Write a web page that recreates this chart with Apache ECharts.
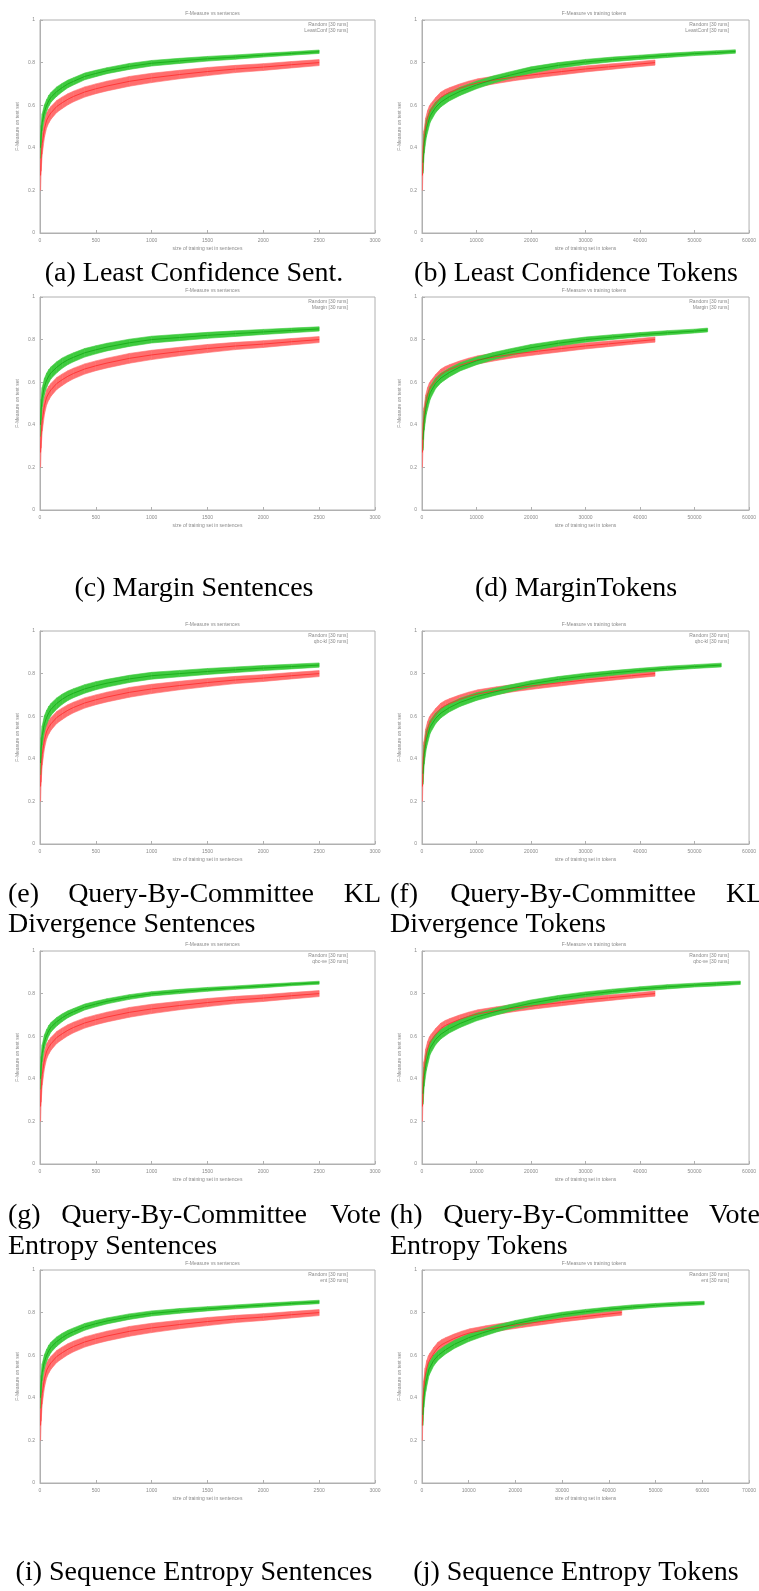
<!DOCTYPE html>
<html>
<head>
<meta charset="utf-8">
<script src="https://cdn.jsdelivr.net/npm/echarts@6/dist/echarts.min.js"></script>
<style>
  html, body { margin: 0; padding: 0; background: #fff; }
  #chart { width: 759px; height: 1591px; }
</style>
</head>
<body>
<div id="chart"></div>
<script>
// ---- data: training-set size vs F-measure (mean and error half-width) ----
const sentX = [5, 10, 20, 40, 60, 80, 100, 150, 200, 250, 300, 400, 500, 600, 800, 1000, 1250, 1500, 1750, 2000, 2250, 2500];
const randomSentMean = [0.27, 0.35, 0.42, 0.49, 0.53, 0.55, 0.565, 0.594, 0.612, 0.628, 0.641, 0.662, 0.677, 0.69, 0.712, 0.728, 0.744, 0.758, 0.77, 0.779, 0.79, 0.80];
const randomSentErr = [0.07, 0.06, 0.05, 0.04, 0.035, 0.032, 0.03, 0.028, 0.027, 0.026, 0.025, 0.024, 0.023, 0.023, 0.023, 0.022, 0.02, 0.019, 0.017, 0.016, 0.015, 0.014];

const leastConfSentMean = [0.40, 0.46, 0.52, 0.57, 0.60, 0.622, 0.638, 0.664, 0.683, 0.70, 0.712, 0.735, 0.749, 0.762, 0.782, 0.797, 0.808, 0.818, 0.826, 0.835, 0.843, 0.851];
const leastConfSentErr = [0.05, 0.045, 0.04, 0.032, 0.027, 0.025, 0.023, 0.022, 0.02, 0.018, 0.017, 0.016, 0.015, 0.014, 0.014, 0.013, 0.012, 0.011, 0.01, 0.009, 0.008, 0.008];
const marginSentMean = [0.40, 0.47, 0.53, 0.58, 0.61, 0.63, 0.645, 0.67, 0.69, 0.705, 0.717, 0.738, 0.752, 0.765, 0.785, 0.80, 0.81, 0.82, 0.828, 0.836, 0.843, 0.85];
const marginSentErr = [0.055, 0.05, 0.045, 0.038, 0.033, 0.03, 0.028, 0.026, 0.024, 0.022, 0.021, 0.02, 0.019, 0.018, 0.017, 0.016, 0.015, 0.014, 0.013, 0.012, 0.011, 0.01];
const qbcKlSentMean = [0.38, 0.45, 0.51, 0.565, 0.595, 0.617, 0.633, 0.66, 0.68, 0.696, 0.708, 0.728, 0.743, 0.755, 0.775, 0.79, 0.80, 0.81, 0.818, 0.826, 0.833, 0.84];
const qbcKlSentErr = [0.055, 0.05, 0.045, 0.038, 0.033, 0.03, 0.028, 0.026, 0.024, 0.022, 0.021, 0.02, 0.019, 0.018, 0.017, 0.016, 0.015, 0.014, 0.013, 0.012, 0.011, 0.01];
const qbcVeSentMean = [0.40, 0.46, 0.52, 0.575, 0.605, 0.627, 0.643, 0.668, 0.687, 0.703, 0.715, 0.737, 0.751, 0.764, 0.784, 0.799, 0.81, 0.82, 0.828, 0.836, 0.844, 0.851];
const qbcVeSentErr = [0.05, 0.045, 0.04, 0.032, 0.027, 0.024, 0.022, 0.02, 0.018, 0.016, 0.015, 0.014, 0.013, 0.012, 0.011, 0.01, 0.01, 0.009, 0.008, 0.008, 0.007, 0.007];
const seqEntSentMean = [0.40, 0.46, 0.52, 0.57, 0.60, 0.622, 0.638, 0.664, 0.683, 0.699, 0.711, 0.733, 0.748, 0.761, 0.781, 0.796, 0.808, 0.818, 0.827, 0.835, 0.843, 0.85];
const seqEntSentErr = [0.05, 0.045, 0.04, 0.033, 0.028, 0.026, 0.024, 0.022, 0.02, 0.018, 0.017, 0.016, 0.015, 0.014, 0.013, 0.012, 0.011, 0.01, 0.009, 0.009, 0.008, 0.008];

const randomTokX = [85, 170, 340, 680, 1030, 1370, 1710, 2570, 3420, 4280, 5130, 6840, 8550, 10260, 13680, 17100, 21380, 25650, 29930, 34200, 38480, 42750];
const randomTokMean = [0.27, 0.35, 0.43, 0.50, 0.54, 0.565, 0.58, 0.61, 0.635, 0.65, 0.66, 0.678, 0.693, 0.705, 0.72, 0.733, 0.746, 0.758, 0.77, 0.78, 0.79, 0.80];
const randomTokErr = [0.07, 0.06, 0.05, 0.04, 0.035, 0.032, 0.03, 0.028, 0.026, 0.024, 0.023, 0.021, 0.02, 0.019, 0.018, 0.017, 0.016, 0.015, 0.014, 0.013, 0.012, 0.012];

const leastConfTokX = [200, 400, 800, 1500, 2500, 3500, 5000, 7000, 10000, 13000, 16000, 20000, 25000, 30000, 35000, 40000, 45000, 50000, 54000, 57500];
const leastConfTokMean = [0.33, 0.42, 0.49, 0.55, 0.59, 0.615, 0.64, 0.665, 0.695, 0.72, 0.74, 0.765, 0.787, 0.803, 0.815, 0.825, 0.834, 0.842, 0.847, 0.852];
const leastConfTokErr = [0.05, 0.045, 0.04, 0.03, 0.025, 0.022, 0.02, 0.019, 0.018, 0.017, 0.016, 0.015, 0.013, 0.012, 0.011, 0.01, 0.01, 0.009, 0.009, 0.008];
const marginTokX = [200, 400, 800, 1500, 2500, 3500, 5000, 7000, 10000, 13000, 16000, 20000, 25000, 30000, 35000, 40000, 45000, 50000, 52400];
const marginTokMean = [0.33, 0.42, 0.49, 0.55, 0.595, 0.62, 0.645, 0.672, 0.70, 0.722, 0.74, 0.762, 0.783, 0.80, 0.812, 0.823, 0.832, 0.84, 0.845];
const marginTokErr = [0.05, 0.045, 0.04, 0.03, 0.025, 0.022, 0.02, 0.019, 0.018, 0.017, 0.016, 0.015, 0.013, 0.012, 0.011, 0.01, 0.01, 0.009, 0.009];
const qbcKlTokX = [200, 400, 800, 1500, 2500, 3500, 5000, 7000, 10000, 13000, 16000, 20000, 25000, 30000, 35000, 40000, 45000, 50000, 54900];
const qbcKlTokMean = [0.33, 0.42, 0.49, 0.55, 0.59, 0.615, 0.64, 0.665, 0.692, 0.712, 0.73, 0.752, 0.773, 0.79, 0.803, 0.815, 0.825, 0.833, 0.84];
const qbcKlTokErr = [0.05, 0.045, 0.04, 0.03, 0.025, 0.022, 0.02, 0.019, 0.018, 0.017, 0.016, 0.015, 0.013, 0.012, 0.011, 0.01, 0.01, 0.009, 0.009];
const qbcVeTokX = [200, 400, 800, 1500, 2500, 3500, 5000, 7000, 10000, 13000, 16000, 20000, 25000, 30000, 35000, 40000, 45000, 50000, 54000, 58400];
const qbcVeTokMean = [0.33, 0.41, 0.48, 0.545, 0.585, 0.61, 0.635, 0.66, 0.69, 0.712, 0.732, 0.755, 0.778, 0.796, 0.81, 0.822, 0.832, 0.84, 0.845, 0.851];
const qbcVeTokErr = [0.05, 0.045, 0.04, 0.03, 0.025, 0.022, 0.02, 0.019, 0.018, 0.017, 0.016, 0.015, 0.013, 0.012, 0.011, 0.01, 0.01, 0.009, 0.009, 0.008];
const seqEntTokX = [200, 400, 800, 1500, 2500, 3500, 5000, 7000, 10000, 13000, 16000, 20000, 25000, 30000, 35000, 40000, 45000, 50000, 55000, 60400];
const seqEntTokMean = [0.32, 0.40, 0.47, 0.535, 0.575, 0.60, 0.625, 0.652, 0.682, 0.705, 0.725, 0.748, 0.771, 0.79, 0.804, 0.816, 0.826, 0.834, 0.84, 0.845];
const seqEntTokErr = [0.05, 0.045, 0.04, 0.03, 0.025, 0.022, 0.02, 0.019, 0.018, 0.017, 0.016, 0.015, 0.013, 0.012, 0.011, 0.01, 0.01, 0.009, 0.009, 0.008];

// panel definitions: which strategy goes where
const panels = [
  { col: 0, row: 0, tokens: false, xMax: 3000, name: 'LeastConf [30 runs]', x: sentX, mean: leastConfSentMean, err: leastConfSentErr },
  { col: 1, row: 0, tokens: true, xMax: 60000, name: 'LeastConf [30 runs]', x: leastConfTokX, mean: leastConfTokMean, err: leastConfTokErr },
  { col: 0, row: 1, tokens: false, xMax: 3000, name: 'Margin [30 runs]', x: sentX, mean: marginSentMean, err: marginSentErr },
  { col: 1, row: 1, tokens: true, xMax: 60000, name: 'Margin [30 runs]', x: marginTokX, mean: marginTokMean, err: marginTokErr },
  { col: 0, row: 2, tokens: false, xMax: 3000, name: 'qbc-kl [30 runs]', x: sentX, mean: qbcKlSentMean, err: qbcKlSentErr },
  { col: 1, row: 2, tokens: true, xMax: 60000, name: 'qbc-kl [30 runs]', x: qbcKlTokX, mean: qbcKlTokMean, err: qbcKlTokErr },
  { col: 0, row: 3, tokens: false, xMax: 3000, name: 'qbc-ve [30 runs]', x: sentX, mean: qbcVeSentMean, err: qbcVeSentErr },
  { col: 1, row: 3, tokens: true, xMax: 60000, name: 'qbc-ve [30 runs]', x: qbcVeTokX, mean: qbcVeTokMean, err: qbcVeTokErr },
  { col: 0, row: 4, tokens: false, xMax: 3000, name: 'ent [30 runs]', x: sentX, mean: seqEntSentMean, err: seqEntSentErr },
  { col: 1, row: 4, tokens: true, xMax: 70000, name: 'ent [30 runs]', x: seqEntTokX, mean: seqEntTokMean, err: seqEntTokErr }
];

// ---- layout ----
const ROW_TOP = [20, 297, 631, 951, 1270];
const PLOT_H = 213;
const COL_LEFT = [40, 422];
const COL_W = [335, 334];

const RED_FILL = '#ff6e6e', RED_LINE = '#ff2a2a';
const GREEN_FILL = '#3fcb3f', GREEN_LINE = '#14a814';
const AXIS_GREY = '#b0b0b0', LABEL_GREY = '#8a8a8a';

function bandSegments(xs, mean, err) {
  const out = [];
  for (let i = 0; i + 1 < xs.length; i++) {
    out.push([xs[i], mean[i] - err[i], mean[i] + err[i], xs[i + 1], mean[i + 1] - err[i + 1], mean[i + 1] + err[i + 1]]);
  }
  return out;
}

function bandSeries(idx, xs, mean, err, fill) {
  return {
    type: 'custom', xAxisIndex: idx, yAxisIndex: idx, silent: true,
    data: bandSegments(xs, mean, err),
    encode: { x: [0, 3], y: [1, 2, 4, 5] },
    renderItem: function (params, api) {
      const p0 = api.coord([api.value(0), api.value(1)]);
      const p1 = api.coord([api.value(0), api.value(2)]);
      const p2 = api.coord([api.value(3), api.value(5)]);
      const p3 = api.coord([api.value(3), api.value(4)]);
      return { type: 'polygon', shape: { points: [p0, p1, p2, p3] },
        style: { fill: fill, stroke: fill, lineWidth: 0.6 } };
    }
  };
}

function meanSeries(idx, xs, mean, color) {
  return {
    type: 'line', xAxisIndex: idx, yAxisIndex: idx, silent: true,
    data: xs.map((x, i) => [x, mean[i]]),
    showSymbol: false, smooth: false,
    lineStyle: { color: color, width: 0.8 }
  };
}

const plainNumber = v => String(v);
const grid = [], xAxis = [], yAxis = [], series = [], title = [], graphic = [];

panels.forEach((p, i) => {
  const left = COL_LEFT[p.col], top = ROW_TOP[p.row], w = COL_W[p.col];
  grid.push({ left: left, top: top, width: w, height: PLOT_H, show: true,
    borderColor: AXIS_GREY, borderWidth: 1, containLabel: false });
  xAxis.push({
    gridIndex: i, type: 'value', min: 0, max: p.xMax, interval: p.tokens ? 10000 : 500,
    name: p.tokens ? 'size of training set in tokens' : 'size of training set in sentences',
    nameLocation: 'middle', nameGap: 13,
    nameTextStyle: { fontSize: 5, color: LABEL_GREY },
    axisLine: { lineStyle: { color: AXIS_GREY, width: 1 } },
    axisTick: { inside: true, length: 3, lineStyle: { color: AXIS_GREY } },
    axisLabel: { fontSize: 5, color: LABEL_GREY, margin: 5, formatter: plainNumber },
    splitLine: { show: false }
  });
  yAxis.push({
    gridIndex: i, type: 'value', min: 0, max: 1, interval: 0.2,
    name: 'F-Measure on test set', nameLocation: 'middle', nameGap: 20,
    nameTextStyle: { fontSize: 5, color: LABEL_GREY },
    axisLine: { lineStyle: { color: AXIS_GREY, width: 1 } },
    axisTick: { inside: true, length: 3, lineStyle: { color: AXIS_GREY } },
    axisLabel: { fontSize: 5, color: LABEL_GREY, margin: 5, formatter: plainNumber },
    splitLine: { show: false }
  });
  title.push({
    text: p.tokens ? 'F-Measure vs training tokens' : 'F-Measure vs sentences',
    left: left + w / 2, top: top - 14, textAlign: 'center',
    textStyle: { fontSize: 5, color: LABEL_GREY, fontWeight: 'normal' }
  });

  const rx = p.tokens ? randomTokX : sentX;
  const rm = p.tokens ? randomTokMean : randomSentMean;
  const re = p.tokens ? randomTokErr : randomSentErr;
  series.push(bandSeries(i, rx, rm, re, RED_FILL));
  series.push(meanSeries(i, rx, rm, RED_LINE));
  series.push(bandSeries(i, p.x, p.mean, p.err, GREEN_FILL));
  series.push(meanSeries(i, p.x, p.mean, GREEN_LINE));

  // key in the upper right corner
  const kx = left + w - 27;
  graphic.push({ type: 'text', x: kx, y: top + 2,
    style: { text: 'Random [30 runs]', fontSize: 5, fill: LABEL_GREY, align: 'right' } });
  graphic.push({ type: 'text', x: kx, y: top + 8,
    style: { text: p.name, fontSize: 5, fill: LABEL_GREY, align: 'right' } });
});

// captions under each panel
const CAP = { fontFamily: 'Liberation Serif', fontSize: 28, fill: '#000' };
function cap(text, x, y, align) {
  graphic.push({ type: 'text', x: x, y: y,
    style: Object.assign({ text: text, align: align || 'left', verticalAlign: 'middle' }, CAP) });
}
cap('(a) Least Confidence Sent.', 194, 274, 'center');
cap('(b) Least Confidence Tokens', 576, 274, 'center');
cap('(c) Margin Sentences', 194, 589, 'center');
cap('(d) MarginTokens', 576, 589, 'center');
cap('(e)', 8, 895); cap('Query-By-Committee', 191, 895, 'center'); cap('KL', 381, 895, 'right');
cap('Divergence Sentences', 8, 925);
cap('(f)', 390, 895); cap('Query-By-Committee', 573, 895, 'center'); cap('KL', 726, 895);
cap('Divergence Tokens', 390, 925);
cap('(g)', 8, 1216); cap('Query-By-Committee', 184, 1216, 'center'); cap('Vote', 381, 1216, 'right');
cap('Entropy Sentences', 8, 1247);
cap('(h)', 390, 1216); cap('Query-By-Committee', 566, 1216, 'center'); cap('Vote', 709, 1216);
cap('Entropy Tokens', 390, 1247);
cap('(i) Sequence Entropy Sentences', 194, 1573, 'center');
cap('(j) Sequence Entropy Tokens', 576, 1573, 'center');

const chart = echarts.init(document.getElementById('chart'), null, { renderer: 'canvas' });
chart.setOption({
  animation: false,
  backgroundColor: '#fff',
  title: title, grid: grid, xAxis: xAxis, yAxis: yAxis, series: series, graphic: graphic
});
</script>
</body>
</html>
